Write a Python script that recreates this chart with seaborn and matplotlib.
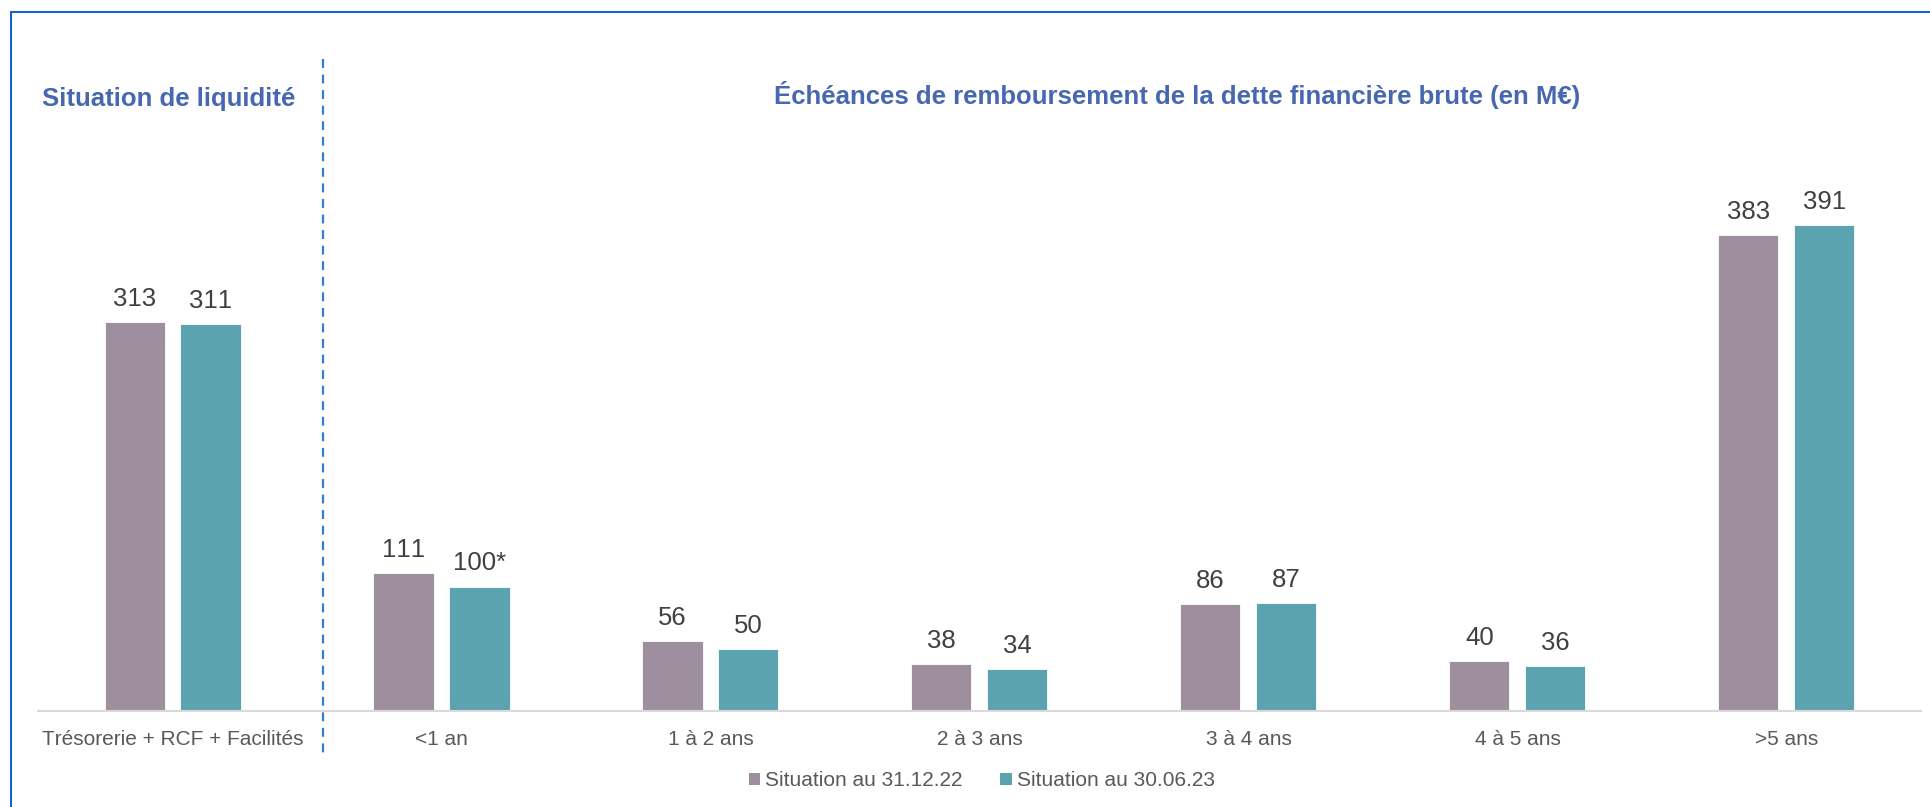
import matplotlib
matplotlib.use("Agg")
import matplotlib.pyplot as plt
import matplotlib.transforms as mtransforms
from matplotlib.lines import Line2D
from matplotlib.patches import Patch
import pandas as pd
import seaborn as sns

categories = [
    "Trésorerie + RCF + Facilités",
    "<1 an",
    "1 à 2 ans",
    "2 à 3 ans",
    "3 à 4 ans",
    "4 à 5 ans",
    ">5 ans",
]
series_names = ["Situation au 31.12.22", "Situation au 30.06.23"]
values_dec22 = [313, 111, 56, 38, 86, 40, 383]
values_jun23 = [311, 100, 50, 34, 87, 36, 391]
labels_dec22 = ["313", "111", "56", "38", "86", "40", "383"]
labels_jun23 = ["311", "100*", "50", "34", "87", "36", "391"]

colors = ["#9d8f9e", "#5ba3ae"]
title_blue = "#4767b0"
frame_blue = "#1a5fd6"

sns.set_style("white")
plt.rcParams["font.family"] = ["Liberation Sans", "DejaVu Sans"]
# office-style rendering: no pair kerning (keeps "111" evenly spaced)
plt.rcParams["text.kerning_factor"] = 6

df = pd.DataFrame({
    "category": categories * 2,
    "period": [series_names[0]] * len(categories) + [series_names[1]] * len(categories),
    "value": values_dec22 + values_jun23,
})

fig = plt.figure(figsize=(19.3, 8.07), dpi=100)
ax = fig.add_axes([0.0197, 0.119, 0.9756, 0.695])

sns.barplot(
    data=df, x="category", y="value", hue="period",
    palette=colors, saturation=1, width=0.565, gap=0.21, ax=ax,
    edgecolor="white", linewidth=0.6, legend=False,
)

for container, labels in zip(ax.containers, [labels_dec22, labels_jun23]):
    ax.bar_label(container, labels=labels, padding=8, fontsize=18.5, color="#404040")

ax.set_xlim(-0.5, len(categories) - 0.5)
ax.set_ylim(0, 451)
ax.set_xlabel("")
ax.set_ylabel("")
ax.set_yticks([])
ax.tick_params(axis="x", length=0, pad=14, labelsize=15, labelcolor="#595959")
for side in ["top", "right", "left"]:
    ax.spines[side].set_visible(False)
ax.spines["bottom"].set_color("#d9d9d9")
ax.spines["bottom"].set_linewidth(1.5)

# dashed separator between the liquidity block and the maturities
trans = mtransforms.blended_transform_factory(ax.transData, fig.transFigure)
ax.plot([0.56, 0.56], [1 - 59 / 807, 1 - 757 / 807], transform=trans, clip_on=False,
        color="#2e7fd6", linewidth=1.6, linestyle=(0, (4, 3)))

fig.text(0.0876, 1 - 99 / 807, "Situation de liquidité", ha="center", va="center",
         fontsize=18.5, fontweight="bold", color=title_blue)
fig.text(0.6098, 1 - 95 / 807, "Échéances de remboursement de la dette financière brute (en M€)",
         ha="center", va="center", fontsize=18.5, fontweight="bold", color=title_blue)

# frame (top and left edges only, the rest is cropped)
fig.add_artist(Line2D([11 / 1930, 11 / 1930], [0, 1 - 12 / 807], transform=fig.transFigure,
                      color=frame_blue, linewidth=1.5))
fig.add_artist(Line2D([11 / 1930, 1], [1 - 12 / 807, 1 - 12 / 807], transform=fig.transFigure,
                      color=frame_blue, linewidth=1.5))

handles = [Patch(facecolor=c, edgecolor="none") for c in colors]
fig.legend(handles, series_names, loc="center", bbox_to_anchor=(982 / 1930, 1 - 781 / 807), ncol=2,
           frameon=False, fontsize=15, labelcolor="#595959", handlelength=0.53,
           handleheight=0.53, handletextpad=0.25, columnspacing=1.8,
           borderpad=0, borderaxespad=0)

fig.savefig("out.png", dpi=100)
